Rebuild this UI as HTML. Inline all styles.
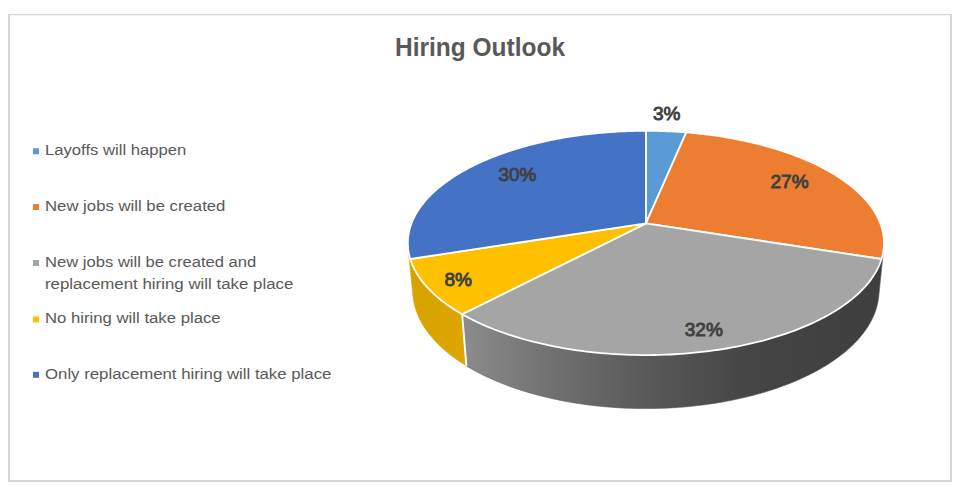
<!DOCTYPE html>
<html><head><meta charset="utf-8"><style>
html,body{margin:0;padding:0;background:#fff;}
svg{display:block;font-family:"Liberation Sans", sans-serif;}
</style></head><body>
<svg width="965" height="494" viewBox="0 0 965 494">
<defs><linearGradient id="gYel" gradientUnits="userSpaceOnUse" x1="410" y1="0" x2="466" y2="0">
<stop offset="0" stop-color="#D8A200"/>
<stop offset="1" stop-color="#DDA600"/>
</linearGradient>
<linearGradient id="gGray" gradientUnits="userSpaceOnUse" x1="463" y1="0" x2="882" y2="0">
<stop offset="0" stop-color="#8C8C8C"/>
<stop offset="0.2" stop-color="#727272"/>
<stop offset="0.43" stop-color="#5A5A5A"/>
<stop offset="0.68" stop-color="#454545"/>
<stop offset="1" stop-color="#3E3E3E"/>
</linearGradient></defs>
<rect x="0" y="0" width="965" height="494" fill="#fff"/>
<rect x="8" y="14" width="2" height="468" fill="#D6D6D6"/>
<rect x="950" y="14" width="2" height="468" fill="#D6D6D6"/>
<rect x="8" y="14" width="944" height="1.3" fill="#D6D6D6"/>
<rect x="8" y="480" width="944" height="2" fill="#D6D6D6"/>
<polygon points="883.69,248.37 883.44,250.38 883.12,252.40 882.72,254.42 882.24,256.44 881.68,258.46 881.03,260.48 880.31,262.51 879.51,264.53 878.63,266.55 877.66,268.57 876.61,270.59 875.48,272.61 874.27,274.62 872.97,276.62 871.59,278.62 870.13,280.61 868.58,282.60 866.95,284.58 865.23,286.54 863.43,288.50 861.54,290.45 859.57,292.38 857.52,294.30 855.39,296.21 853.17,298.10 850.86,299.98 848.48,301.84 846.01,303.68 843.45,305.51 840.82,307.32 838.11,309.10 835.31,310.87 832.43,312.61 829.48,314.33 826.44,316.03 823.33,317.70 820.14,319.35 816.88,320.97 813.54,322.56 810.12,324.12 806.63,325.66 803.07,327.16 799.44,328.63 795.74,330.08 791.97,331.48 788.13,332.86 784.23,334.20 780.26,335.50 776.23,336.77 772.15,338.01 768.00,339.20 763.79,340.36 759.53,341.47 755.21,342.55 750.84,343.59 746.42,344.59 741.95,345.54 737.44,346.45 732.88,347.32 728.28,348.14 723.64,348.92 718.96,349.66 714.24,350.35 709.50,351.00 704.72,351.60 699.91,352.15 695.07,352.65 690.21,353.11 685.33,353.52 680.43,353.89 675.51,354.20 670.57,354.47 665.63,354.69 660.67,354.86 655.71,354.98 650.74,355.05 645.77,355.07 640.80,355.05 635.83,354.97 630.87,354.85 625.91,354.68 620.97,354.46 616.03,354.19 611.12,353.87 606.22,353.50 601.33,353.09 596.47,352.63 591.64,352.12 586.83,351.57 582.05,350.96 577.31,350.32 572.59,349.62 567.92,348.89 563.28,348.10 558.68,347.27 554.12,346.40 549.61,345.49 545.15,344.53 540.73,343.54 536.36,342.50 532.05,341.42 527.79,340.30 523.59,339.14 519.44,337.94 515.35,336.71 511.33,335.44 507.36,334.13 503.47,332.79 499.63,331.41 495.87,330.00 492.17,328.56 488.54,327.08 484.98,325.58 481.50,324.04 478.09,322.48 474.75,320.88 471.49,319.26 468.30,317.61 465.19,315.94 462.16,314.24 466.39,365.88 469.36,367.66 472.41,369.41 475.53,371.13 478.73,372.83 481.99,374.50 485.33,376.14 488.75,377.74 492.23,379.32 495.78,380.86 499.39,382.37 503.08,383.85 506.83,385.29 510.64,386.69 514.51,388.06 518.45,389.39 522.44,390.68 526.50,391.93 530.60,393.14 534.77,394.31 538.98,395.44 543.25,396.53 547.56,397.57 551.92,398.57 556.33,399.53 560.78,400.44 565.27,401.30 569.80,402.12 574.36,402.89 578.96,403.61 583.60,404.29 588.26,404.92 592.95,405.50 597.67,406.03 602.41,406.51 607.18,406.94 611.96,407.32 616.76,407.66 621.57,407.94 626.40,408.17 631.23,408.35 636.08,408.48 640.92,408.56 645.77,408.58 650.62,408.56 655.47,408.48 660.31,408.36 665.15,408.18 669.98,407.95 674.79,407.67 679.59,407.34 684.37,406.96 689.14,406.54 693.88,406.06 698.60,405.53 703.29,404.95 707.96,404.32 712.59,403.65 717.20,402.93 721.76,402.16 726.30,401.34 730.79,400.48 735.24,399.57 739.65,398.62 744.01,397.62 748.33,396.58 752.60,395.50 756.81,394.37 760.98,393.21 765.09,392.00 769.14,390.75 773.14,389.46 777.08,388.13 780.96,386.77 784.77,385.36 788.53,383.92 792.21,382.45 795.84,380.94 799.39,379.40 802.87,377.83 806.29,376.22 809.63,374.58 812.90,372.92 816.10,371.22 819.23,369.50 822.28,367.75 825.25,365.97 828.15,364.17 830.97,362.34 833.71,360.49 836.38,358.62 838.96,356.73 841.47,354.82 843.89,352.89 846.24,350.93 848.50,348.97 850.68,346.98 852.78,344.98 854.80,342.97 856.74,340.94 858.60,338.90 860.37,336.84 862.06,334.78 863.67,332.71 865.20,330.62 866.65,328.53 868.01,326.43 869.30,324.33 870.50,322.22 871.62,320.10 872.66,317.98 873.62,315.86 874.50,313.73 875.30,311.61 876.02,309.48 876.66,307.35 877.22,305.23 877.71,303.10 878.12,300.98 878.45,298.86 878.71,296.74" fill="url(#gGray)" stroke="#5a5a5a" stroke-width="0.6"/>
<polygon points="462.16,314.24 459.22,312.52 456.35,310.78 453.56,309.02 450.86,307.23 448.23,305.43 445.69,303.61 443.22,301.76 440.84,299.91 438.55,298.03 436.33,296.14 434.20,294.23 432.16,292.32 430.19,290.38 428.31,288.44 426.52,286.49 424.81,284.52 423.18,282.55 421.64,280.57 420.18,278.58 418.80,276.58 417.51,274.58 416.30,272.57 415.17,270.56 414.12,268.54 413.16,266.53 412.28,264.51 411.48,262.49 410.76,260.46 410.12,258.44 409.56,256.42 409.08,254.41 408.68,252.39 408.36,250.38 408.11,248.37 413.09,296.74 413.35,298.86 413.68,300.97 414.09,303.09 414.57,305.21 415.13,307.34 415.78,309.46 416.49,311.58 417.29,313.71 418.17,315.83 419.13,317.95 420.16,320.07 421.28,322.18 422.48,324.29 423.76,326.39 425.12,328.48 426.56,330.57 428.09,332.65 429.69,334.72 431.38,336.78 433.15,338.83 435.00,340.87 436.93,342.90 438.94,344.91 441.04,346.91 443.22,348.89 445.47,350.86 447.81,352.80 450.23,354.73 452.73,356.65 455.30,358.54 457.96,360.41 460.69,362.25 463.51,364.08 466.39,365.88" fill="url(#gYel)" stroke="#DAA400" stroke-width="0.6"/>
<line x1="462.16" y1="314.24" x2="466.39" y2="365.88" stroke="#fff" stroke-width="1.9"/>
<polygon points="645.90,223.48 645.90,130.80 649.59,130.81 653.27,130.85 656.96,130.92 660.64,131.02 664.32,131.14 667.99,131.28 671.66,131.46 675.33,131.66 678.99,131.89 682.64,132.14 686.29,132.43" fill="#5B9BD5" stroke="#fff" stroke-width="1.8" stroke-linejoin="round"/>
<polygon points="645.90,223.48 686.29,132.43 689.75,132.72 693.20,133.04 696.64,133.38 700.07,133.74 703.49,134.13 706.91,134.54 710.31,134.98 713.70,135.44 717.08,135.93 720.44,136.44 723.80,136.97 727.14,137.53 730.46,138.11 733.77,138.72 737.06,139.35 740.34,140.00 743.60,140.68 746.84,141.38 750.07,142.10 753.27,142.85 756.46,143.62 759.62,144.42 762.76,145.24 765.88,146.08 768.98,146.95 772.06,147.84 775.11,148.75 778.14,149.69 781.14,150.65 784.11,151.63 787.06,152.64 789.98,153.67 792.87,154.72 795.73,155.79 798.57,156.89 801.37,158.01 804.14,159.16 806.88,160.32 809.58,161.51 812.25,162.72 814.89,163.95 817.49,165.20 820.05,166.48 822.58,167.78 825.07,169.10 827.52,170.44 829.93,171.80 832.30,173.18 834.63,174.59 836.92,176.01 839.16,177.46 841.36,178.92 843.52,180.41 845.63,181.91 847.69,183.44 849.71,184.98 851.68,186.55 853.60,188.13 855.47,189.73 857.29,191.35 859.05,192.99 860.77,194.65 862.43,196.33 864.03,198.02 865.58,199.73 867.08,201.45 868.52,203.20 869.90,204.96 871.22,206.73 872.48,208.52 873.68,210.32 874.82,212.14 875.89,213.98 876.91,215.83 877.85,217.69 878.74,219.56 879.56,221.45 880.31,223.35 880.99,225.26 881.61,227.18 882.15,229.11 882.63,231.05 883.03,233.01 883.37,234.97 883.63,236.94 883.81,238.91 883.93,240.90 883.97,242.89 883.93,244.89 883.82,246.89 883.63,248.90 883.36,250.91 883.02,252.93 882.60,254.95 882.10,256.97 881.51,258.99" fill="#ED7D31" stroke="#fff" stroke-width="1.8" stroke-linejoin="round"/>
<polygon points="645.90,223.48 881.51,258.99 880.85,261.01 880.11,263.03 879.29,265.05 878.39,267.07 877.40,269.08 876.34,271.10 875.19,273.11 873.96,275.11 872.64,277.11 871.25,279.10 869.76,281.09 868.20,283.07 866.55,285.04 864.82,287.00 863.00,288.95 861.10,290.89 859.12,292.81 857.05,294.73 854.90,296.63 852.67,298.51 850.35,300.38 847.96,302.24 845.47,304.07 842.91,305.89 840.27,307.69 837.54,309.46 834.74,311.22 831.85,312.96 828.89,314.67 825.84,316.36 822.72,318.02 819.53,319.66 816.25,321.27 812.91,322.85 809.49,324.41 805.99,325.93 802.43,327.43 798.79,328.89 795.09,330.32 791.31,331.72 787.47,333.09 783.57,334.42 779.60,335.72 775.57,336.98 771.48,338.20 767.33,339.39 763.13,340.53 758.87,341.64 754.55,342.71 750.19,343.74 745.77,344.73 741.30,345.67 736.79,346.58 732.24,347.44 727.64,348.25 723.01,349.03 718.34,349.76 713.63,350.44 708.88,351.08 704.11,351.67 699.31,352.21 694.48,352.71 689.63,353.16 684.76,353.57 679.86,353.92 674.95,354.23 670.03,354.49 665.09,354.71 660.15,354.87 655.20,354.99 650.24,355.05 645.28,355.07 640.32,355.04 635.36,354.96 630.41,354.83 625.47,354.66 620.54,354.43 615.62,354.16 610.71,353.84 605.82,353.47 600.95,353.06 596.11,352.59 591.29,352.08 586.49,351.52 581.73,350.92 576.99,350.27 572.29,349.58 567.63,348.84 563.00,348.05 558.42,347.23 553.87,346.35 549.37,345.44 544.92,344.48 540.52,343.49 536.16,342.45 531.86,341.37 527.61,340.25 523.42,339.09 519.29,337.90 515.21,336.67 511.20,335.40 507.25,334.09 503.36,332.75 499.54,331.38 495.78,329.97 492.09,328.53 488.47,327.06 484.93,325.55 481.45,324.02 478.05,322.46 474.72,320.87 471.47,319.25 468.29,317.61 465.19,315.94 462.16,314.24" fill="#A5A5A5" stroke="#fff" stroke-width="1.8" stroke-linejoin="round"/>
<polygon points="645.90,223.48 462.16,314.24 459.14,312.48 456.20,310.69 453.35,308.88 450.58,307.05 447.89,305.19 445.30,303.32 442.78,301.43 440.36,299.52 438.02,297.59 435.77,295.65 433.61,293.69 431.54,291.71 429.55,289.73 427.65,287.73 425.84,285.72 424.12,283.70 422.49,281.67 420.94,279.63 419.49,277.59 418.12,275.54 416.84,273.48 415.64,271.42 414.53,269.35 413.51,267.28 412.58,265.21 411.73,263.14 410.96,261.07 410.29,258.99" fill="#FFC000" stroke="#fff" stroke-width="1.8" stroke-linejoin="round"/>
<polygon points="645.90,223.48 410.29,258.99 409.71,256.98 409.21,254.96 408.78,252.95 408.44,250.94 408.17,248.94 407.98,246.94 407.87,244.94 407.83,242.95 407.87,240.97 407.98,238.99 408.16,237.02 408.42,235.06 408.75,233.10 409.15,231.16 409.62,229.22 410.16,227.30 410.77,225.38 411.44,223.48 412.19,221.59 413.00,219.71 413.87,217.84 414.81,215.98 415.81,214.14 416.88,212.31 418.01,210.50 419.20,208.70 420.45,206.92 421.76,205.15 423.13,203.39 424.55,201.65 426.03,199.93 427.57,198.23 429.16,196.54 430.81,194.87 432.51,193.22 434.27,191.58 436.07,189.96 437.92,188.37 439.83,186.79 441.78,185.22 443.78,183.68 445.83,182.16 447.93,180.66 450.07,179.17 452.25,177.71 454.48,176.27 456.75,174.84 459.06,173.44 461.42,172.06 463.81,170.70 466.24,169.36 468.72,168.04 471.23,166.74 473.77,165.47 476.36,164.21 478.98,162.98 481.63,161.77 484.32,160.58 487.04,159.42 489.79,158.28 492.57,157.15 495.39,156.06 498.23,154.98 501.10,153.93 504.01,152.89 506.94,151.89 509.89,150.90 512.87,149.94 515.88,149.00 518.92,148.08 521.97,147.19 525.05,146.32 528.16,145.48 531.28,144.65 534.43,143.85 537.59,143.08 540.78,142.32 543.99,141.59 547.21,140.89 550.45,140.21 553.71,139.55 556.99,138.91 560.28,138.30 563.58,137.72 566.91,137.15 570.24,136.61 573.59,136.10 576.95,135.61 580.33,135.14 583.71,134.69 587.11,134.27 590.51,133.88 593.93,133.50 597.35,133.16 600.79,132.83 604.23,132.53 607.67,132.26 611.13,132.00 614.59,131.77 618.05,131.57 621.52,131.39 625.00,131.23 628.48,131.10 631.96,130.99 635.44,130.91 638.93,130.85 642.41,130.81 645.90,130.80" fill="#4472C4" stroke="#fff" stroke-width="1.8" stroke-linejoin="round"/>
<text x="395.00" y="55.90" font-size="25.90" font-weight="bold" fill="#595959" textLength="170.00" lengthAdjust="spacingAndGlyphs">Hiring Outlook</text>
<rect x="33" y="148.30" width="6" height="6" fill="#5B9BD5"/>
<text x="45.00" y="155.30" font-size="15.30" font-weight="normal" fill="#595959" textLength="141.30" lengthAdjust="spacingAndGlyphs">Layoffs will happen</text>
<rect x="33" y="204.10" width="6" height="6" fill="#ED7D31"/>
<text x="45.00" y="211.10" font-size="15.30" font-weight="normal" fill="#595959" textLength="180.40" lengthAdjust="spacingAndGlyphs">New jobs will be created</text>
<rect x="33" y="260.00" width="6" height="6" fill="#A5A5A5"/>
<text x="45.00" y="267.00" font-size="15.30" font-weight="normal" fill="#595959" textLength="211.30" lengthAdjust="spacingAndGlyphs">New jobs will be created and</text>
<rect x="33" y="316.40" width="6" height="6" fill="#FFC000"/>
<text x="45.00" y="323.40" font-size="15.30" font-weight="normal" fill="#595959" textLength="175.60" lengthAdjust="spacingAndGlyphs">No hiring will take place</text>
<rect x="33" y="371.80" width="6" height="6" fill="#4472C4"/>
<text x="45.00" y="378.80" font-size="15.30" font-weight="normal" fill="#595959" textLength="286.40" lengthAdjust="spacingAndGlyphs">Only replacement hiring will take place</text>
<text x="45.00" y="289.30" font-size="15.30" font-weight="normal" fill="#595959" textLength="248.40" lengthAdjust="spacingAndGlyphs">replacement hiring will take place</text>
<text stroke="#404040" stroke-width="0.9" x="652.90" y="120.30" font-size="19.00" font-weight="normal" fill="#404040">3%</text>
<text stroke="#404040" stroke-width="0.9" x="770.50" y="188.10" font-size="19.00" font-weight="normal" fill="#404040">27%</text>
<text stroke="#404040" stroke-width="0.9" x="498.40" y="181.40" font-size="19.00" font-weight="normal" fill="#404040">30%</text>
<text stroke="#404040" stroke-width="0.9" x="444.50" y="286.20" font-size="19.00" font-weight="normal" fill="#404040">8%</text>
<text stroke="#404040" stroke-width="0.9" x="684.80" y="336.30" font-size="19.00" font-weight="normal" fill="#404040">32%</text>
</svg>
</body></html>
